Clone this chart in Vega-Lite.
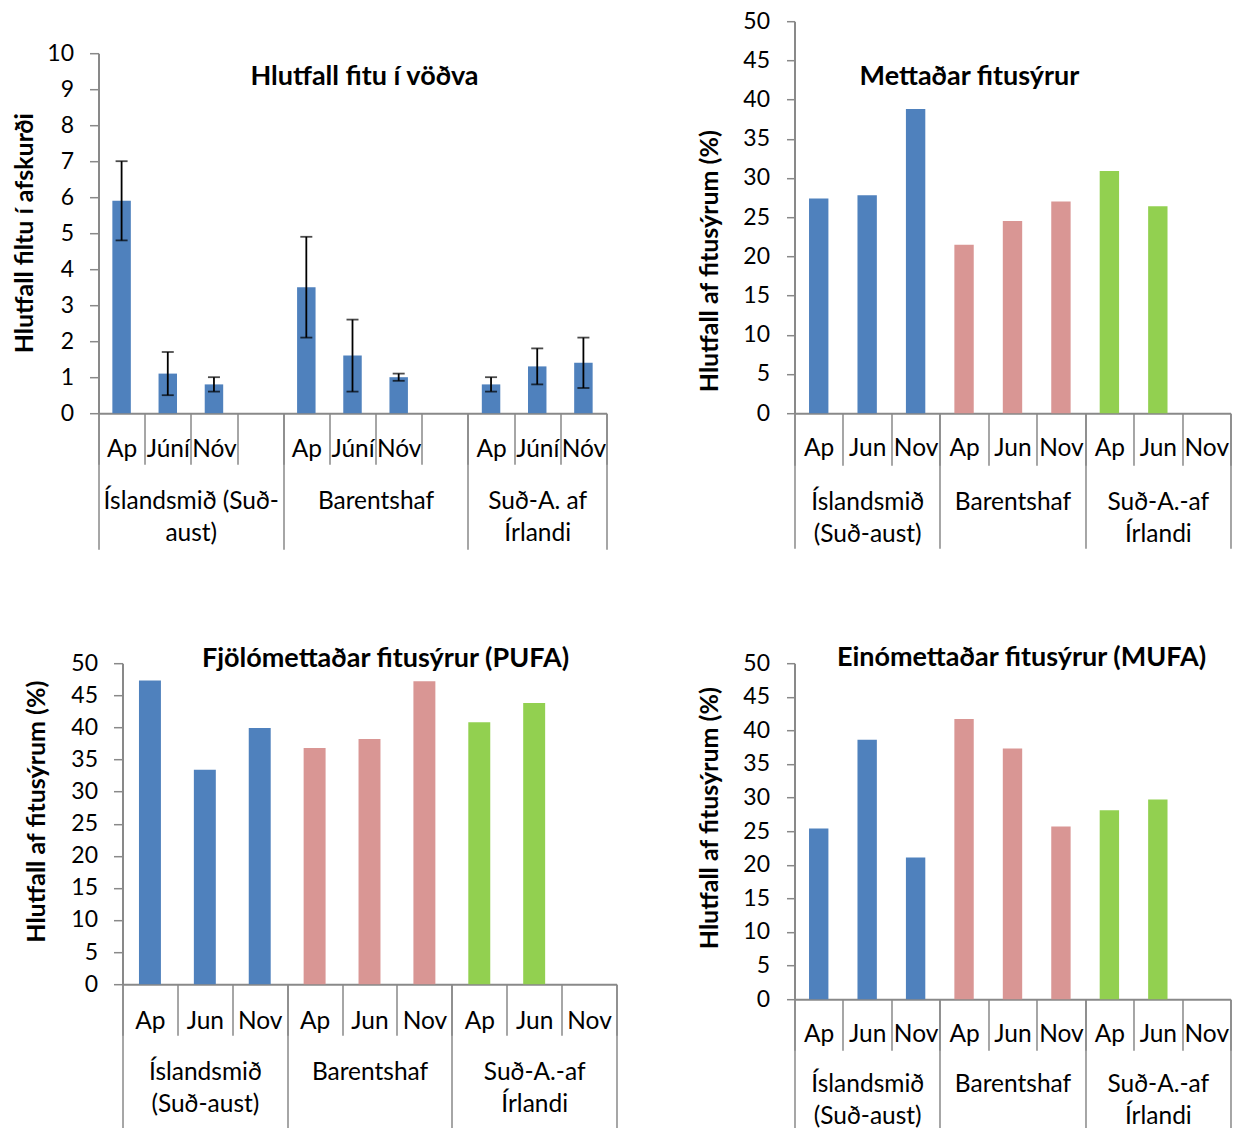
{
  "$schema": "https://vega.github.io/schema/vega-lite/v6.json",
  "padding": {"left": 12.5, "top": 10.2, "right": 0, "bottom": 0},
  "background": "white",
  "config": {
    "view": {"stroke": null},
    "font": "Lato",
    "axis": {"labelColor": "#000000", "titleColor": "#000000", "grid": false, "labelFontSize": 24.5, "titleFontSize": 25, "titleFontWeight": "bold", "domainColor": "#898989", "tickColor": "#898989", "domainWidth": 2, "tickWidth": 1.5, "labelOverlap": false, "labelFlush": false, "labelFont": "Lato", "titleFont": "Lato"},
    "axisY": {"labelFontSize": 23},
    "title": {"font": "Lato", "fontSize": 27, "fontWeight": "bold", "color": "#000000", "anchor": "middle", "baseline": "middle", "offset": 0}
  },
  "datasets": {
    "fat": [
      {"group": "Íslandsmið (Suð-aust)", "month": "Ap", "cat": "IS|Ap", "value": 5.9, "lo": 4.8, "hi": 7.0},
      {"group": "Íslandsmið (Suð-aust)", "month": "Júní", "cat": "IS|Júní", "value": 1.1, "lo": 0.5, "hi": 1.7},
      {"group": "Íslandsmið (Suð-aust)", "month": "Nóv", "cat": "IS|Nóv", "value": 0.8, "lo": 0.6, "hi": 1.0},
      {"group": "Barentshaf", "month": "Ap", "cat": "BA|Ap", "value": 3.5, "lo": 2.1, "hi": 4.9},
      {"group": "Barentshaf", "month": "Júní", "cat": "BA|Júní", "value": 1.6, "lo": 0.6, "hi": 2.6},
      {"group": "Barentshaf", "month": "Nóv", "cat": "BA|Nóv", "value": 1.0, "lo": 0.9, "hi": 1.1},
      {"group": "Suð-A. af Írlandi", "month": "Ap", "cat": "IR|Ap", "value": 0.8, "lo": 0.6, "hi": 1.0},
      {"group": "Suð-A. af Írlandi", "month": "Júní", "cat": "IR|Júní", "value": 1.3, "lo": 0.8, "hi": 1.8},
      {"group": "Suð-A. af Írlandi", "month": "Nóv", "cat": "IR|Nóv", "value": 1.4, "lo": 0.7, "hi": 2.1}
    ],
    "sfa": [
      {"group": "Íslandsmið (Suð-aust)", "month": "Ap", "cat": "IS|Ap", "value": 27.4},
      {"group": "Íslandsmið (Suð-aust)", "month": "Jun", "cat": "IS|Jun", "value": 27.8},
      {"group": "Íslandsmið (Suð-aust)", "month": "Nov", "cat": "IS|Nov", "value": 38.8},
      {"group": "Barentshaf", "month": "Ap", "cat": "BA|Ap", "value": 21.5},
      {"group": "Barentshaf", "month": "Jun", "cat": "BA|Jun", "value": 24.5},
      {"group": "Barentshaf", "month": "Nov", "cat": "BA|Nov", "value": 27.0},
      {"group": "Suð-A.-af Írlandi", "month": "Ap", "cat": "IR|Ap", "value": 30.9},
      {"group": "Suð-A.-af Írlandi", "month": "Jun", "cat": "IR|Jun", "value": 26.4}
    ],
    "pufa": [
      {"group": "Íslandsmið (Suð-aust)", "month": "Ap", "cat": "IS|Ap", "value": 47.3},
      {"group": "Íslandsmið (Suð-aust)", "month": "Jun", "cat": "IS|Jun", "value": 33.4},
      {"group": "Íslandsmið (Suð-aust)", "month": "Nov", "cat": "IS|Nov", "value": 39.9},
      {"group": "Barentshaf", "month": "Ap", "cat": "BA|Ap", "value": 36.8},
      {"group": "Barentshaf", "month": "Jun", "cat": "BA|Jun", "value": 38.2},
      {"group": "Barentshaf", "month": "Nov", "cat": "BA|Nov", "value": 47.2},
      {"group": "Suð-A.-af Írlandi", "month": "Ap", "cat": "IR|Ap", "value": 40.8},
      {"group": "Suð-A.-af Írlandi", "month": "Jun", "cat": "IR|Jun", "value": 43.8}
    ],
    "mufa": [
      {"group": "Íslandsmið (Suð-aust)", "month": "Ap", "cat": "IS|Ap", "value": 25.4},
      {"group": "Íslandsmið (Suð-aust)", "month": "Jun", "cat": "IS|Jun", "value": 38.6},
      {"group": "Íslandsmið (Suð-aust)", "month": "Nov", "cat": "IS|Nov", "value": 21.1},
      {"group": "Barentshaf", "month": "Ap", "cat": "BA|Ap", "value": 41.7},
      {"group": "Barentshaf", "month": "Jun", "cat": "BA|Jun", "value": 37.3},
      {"group": "Barentshaf", "month": "Nov", "cat": "BA|Nov", "value": 25.7},
      {"group": "Suð-A.-af Írlandi", "month": "Ap", "cat": "IR|Ap", "value": 28.1},
      {"group": "Suð-A.-af Írlandi", "month": "Jun", "cat": "IR|Jun", "value": 29.7}
    ]
  },
  "bounds": "flush",
  "columns": 2,
  "spacing": {"row": 250, "column": 178},
  "concat": [
    {
      "width": 508,
      "height": 392,
      "data": {"name": "fat"},
      "title": {"text": "Hlutfall fitu í vöðva", "dx": 12, "dy": 74},
      "resolve": {"axis": {"x": "independent"}},
      "layer": [
        {
          "mark": {"type": "bar", "width": {"band": 0.4}, "color": "#4F81BD"},
          "encoding": {
            "x": {"field": "cat", "type": "nominal", "sort": null,
              "scale": {"domain": ["IS|Ap", "IS|Júní", "IS|Nóv", "IS|", "BA|Ap", "BA|Júní", "BA|Nóv", "BA|", "IR|Ap", "IR|Júní", "IR|Nóv"], "paddingInner": 0, "paddingOuter": 0},
              "axis": {"orient": "bottom", "title": null, "tickBand": "extent", "tickSize": 51, "labelExpr": "split(datum.value, '|')[1]", "labelBaseline": "middle", "labelPadding": -15, "labelAngle": 0}},
            "y": {"field": "value", "type": "quantitative",
              "scale": {"domain": [0, 10], "range": [392, 32], "nice": false},
              "axis": {"title": "Hlutfall filtu í afskurði", "orient": "left", "values": [0, 1, 2, 3, 4, 5, 6, 7, 8, 9, 10], "tickCount": 12, "tickSize": 9, "labelPadding": 16, "titleX": -74, "titleY": 211.5, "titleBaseline": "middle", "titleAngle": -90}}
          }
        },
        {
          "mark": {"type": "rule", "color": "#000000", "strokeWidth": 1.8},
          "encoding": {
            "x": {"field": "cat", "type": "nominal", "sort": null,
              "axis": {"orient": "bottom", "title": null, "domain": false, "tickBand": "extent",
                "tickSize": {"condition": {"test": "datum.extra || indexof(['IS|', 'BA|', 'IR|Nóv'], datum.value) >= 0", "value": 136}, "value": 0},
                "labelExpr": "datum.value == 'IS|Júní' ? ['Íslandsmið (Suð-', 'aust)'] : datum.value == 'BA|Júní' ? 'Barentshaf' : datum.value == 'IR|Júní' ? ['Suð-A. af', 'Írlandi'] : ''",
                "labelOffset": {"condition": {"test": "datum.value == 'IS|Júní' || datum.value == 'BA|Júní'", "value": 23}, "value": 0},
                "labelBaseline": "top", "labelPadding": 76, "labelLineHeight": 32, "labelAngle": 0}},
            "y": {"field": "lo", "type": "quantitative",
              "axis": {"title": "Hlutfall filtu í afskurði", "orient": "left", "values": [0, 1, 2, 3, 4, 5, 6, 7, 8, 9, 10], "tickCount": 12, "tickSize": 9, "labelPadding": 16, "titleX": -74, "titleY": 211.5, "titleBaseline": "middle", "titleAngle": -90}},
            "y2": {"field": "hi"}
          }
        },
        {
          "mark": {"type": "tick", "color": "#000000", "thickness": 1.8, "size": 12},
          "encoding": {
            "x": {"field": "cat", "type": "nominal", "sort": null, "axis": null},
            "y": {"field": "hi", "type": "quantitative",
              "axis": {"title": "Hlutfall filtu í afskurði", "orient": "left", "values": [0, 1, 2, 3, 4, 5, 6, 7, 8, 9, 10], "tickCount": 12, "tickSize": 9, "labelPadding": 16, "titleX": -74, "titleY": 211.5, "titleBaseline": "middle", "titleAngle": -90}}
          }
        },
        {
          "mark": {"type": "tick", "color": "#000000", "thickness": 1.8, "size": 12},
          "encoding": {
            "x": {"field": "cat", "type": "nominal", "sort": null, "axis": null},
            "y": {"field": "lo", "type": "quantitative",
              "axis": {"title": "Hlutfall filtu í afskurði", "orient": "left", "values": [0, 1, 2, 3, 4, 5, 6, 7, 8, 9, 10], "tickCount": 12, "tickSize": 9, "labelPadding": 16, "titleX": -74, "titleY": 211.5, "titleBaseline": "middle", "titleAngle": -90}}
          }
        }
      ]
    },
    {
      "width": 436,
      "height": 392,
      "data": {"name": "sfa"},
      "title": {"text": "Mettaðar fitusýrur", "dx": -43, "dy": 85},
      "resolve": {"axis": {"x": "independent"}},
      "layer": [
        {
          "mark": {"type": "bar", "width": {"band": 0.4}},
          "encoding": {
            "x": {"field": "cat", "type": "nominal", "sort": null,
              "scale": {"domain": ["IS|Ap", "IS|Jun", "IS|Nov", "BA|Ap", "BA|Jun", "BA|Nov", "IR|Ap", "IR|Jun", "IR|Nov"], "paddingInner": 0, "paddingOuter": 0},
              "axis": {"orient": "bottom", "title": null, "tickBand": "extent", "tickSize": 52, "labelExpr": "split(datum.value, '|')[1]", "labelBaseline": "middle", "labelPadding": -17, "labelAngle": 0}},
            "y": {"field": "value", "type": "quantitative",
              "scale": {"domain": [0, 50], "nice": false},
              "axis": {"title": "Hlutfall af fitusýrum (%)", "values": [0, 5, 10, 15, 20, 25, 30, 35, 40, 45, 50], "tickSize": 8, "labelPadding": 17, "titleX": -85, "titleY": 239.5, "titleBaseline": "middle", "titleAngle": -90}},
            "color": {"field": "group", "type": "nominal", "legend": null,
              "scale": {"domain": ["Íslandsmið (Suð-aust)", "Barentshaf", "Suð-A.-af Írlandi"], "range": ["#4F81BD", "#D99694", "#92D050"]}}
          }
        },
        {
          "mark": {"type": "tick", "opacity": 0},
          "encoding": {
            "x": {"field": "cat", "type": "nominal", "sort": null,
              "axis": {"orient": "bottom", "title": null, "domain": false, "tickBand": "extent",
                "tickSize": {"condition": {"test": "datum.extra || indexof(['IS|Nov', 'BA|Nov', 'IR|Nov'], datum.value) >= 0", "value": 135}, "value": 0},
                "labelExpr": "datum.value == 'IS|Jun' ? ['Íslandsmið', '(Suð-aust)'] : datum.value == 'BA|Jun' ? 'Barentshaf' : datum.value == 'IR|Jun' ? ['Suð-A.-af', 'Írlandi'] : ''",
                "labelBaseline": "top", "labelPadding": 77, "labelLineHeight": 32, "labelAngle": 0}}
          }
        }
      ]
    },
    {
      "width": 518,
      "height": 321,
      "data": {"name": "pufa"},
      "title": {"text": "Fjölómettaðar fitusýrur (PUFA)", "dx": 28, "dy": 25},
      "resolve": {"axis": {"x": "independent"}},
      "layer": [
        {
          "mark": {"type": "bar", "width": {"band": 0.4}},
          "encoding": {
            "x": {"field": "cat", "type": "nominal", "sort": null,
              "scale": {"domain": ["IS|Ap", "IS|Jun", "IS|Nov", "BA|Ap", "BA|Jun", "BA|Nov", "IR|Ap", "IR|Jun", "IR|Nov"], "paddingInner": 0, "paddingOuter": 0, "range": [24, 518]},
              "axis": {"orient": "bottom", "title": null, "tickBand": "extent", "tickSize": 51, "labelExpr": "split(datum.value, '|')[1]", "labelBaseline": "middle", "labelPadding": -14, "labelAngle": 0}},
            "y": {"field": "value", "type": "quantitative",
              "scale": {"domain": [0, 50], "nice": false},
              "axis": {"title": "Hlutfall af fitusýrum (%)", "offset": -24, "values": [0, 5, 10, 15, 20, 25, 30, 35, 40, 45, 50], "tickSize": 9, "labelPadding": 16, "titleX": -86, "titleY": 148, "titleBaseline": "middle", "titleAngle": -90}},
            "color": {"field": "group", "type": "nominal", "legend": null,
              "scale": {"domain": ["Íslandsmið (Suð-aust)", "Barentshaf", "Suð-A.-af Írlandi"], "range": ["#4F81BD", "#D99694", "#92D050"]}}
          }
        },
        {
          "mark": {"type": "tick", "opacity": 0},
          "encoding": {
            "x": {"field": "cat", "type": "nominal", "sort": null,
              "axis": {"orient": "bottom", "title": null, "domain": false, "tickBand": "extent",
                "tickSize": {"condition": {"test": "datum.extra || indexof(['IS|Nov', 'BA|Nov', 'IR|Nov'], datum.value) >= 0", "value": 150}, "value": 0},
                "labelExpr": "datum.value == 'IS|Jun' ? ['Íslandsmið', '(Suð-aust)'] : datum.value == 'BA|Jun' ? 'Barentshaf' : datum.value == 'IR|Jun' ? ['Suð-A.-af', 'Írlandi'] : ''",
                "labelBaseline": "top", "labelPadding": 76, "labelLineHeight": 32, "labelAngle": 0}}
          }
        }
      ]
    },
    {
      "width": 436,
      "height": 336,
      "data": {"name": "mufa"},
      "title": {"text": "Einómettaðar fitusýrur (MUFA)", "dx": 9, "dy": 24},
      "resolve": {"axis": {"x": "independent"}},
      "layer": [
        {
          "mark": {"type": "bar", "width": {"band": 0.4}},
          "encoding": {
            "x": {"field": "cat", "type": "nominal", "sort": null,
              "scale": {"domain": ["IS|Ap", "IS|Jun", "IS|Nov", "BA|Ap", "BA|Jun", "BA|Nov", "IR|Ap", "IR|Jun", "IR|Nov"], "paddingInner": 0, "paddingOuter": 0},
              "axis": {"orient": "bottom", "title": null, "tickBand": "extent", "tickSize": 51, "labelExpr": "split(datum.value, '|')[1]", "labelBaseline": "middle", "labelPadding": -16, "labelAngle": 0}},
            "y": {"field": "value", "type": "quantitative",
              "scale": {"domain": [0, 50], "nice": false},
              "axis": {"title": "Hlutfall af fitusýrum (%)", "values": [0, 5, 10, 15, 20, 25, 30, 35, 40, 45, 50], "tickSize": 8, "labelPadding": 17, "titleX": -85, "titleY": 154.5, "titleBaseline": "middle", "titleAngle": -90}},
            "color": {"field": "group", "type": "nominal", "legend": null,
              "scale": {"domain": ["Íslandsmið (Suð-aust)", "Barentshaf", "Suð-A.-af Írlandi"], "range": ["#4F81BD", "#D99694", "#92D050"]}}
          }
        },
        {
          "mark": {"type": "tick", "opacity": 0},
          "encoding": {
            "x": {"field": "cat", "type": "nominal", "sort": null,
              "axis": {"orient": "bottom", "title": null, "domain": false, "tickBand": "extent",
                "tickSize": {"condition": {"test": "datum.extra || indexof(['IS|Nov', 'BA|Nov', 'IR|Nov'], datum.value) >= 0", "value": 150}, "value": 0},
                "labelExpr": "datum.value == 'IS|Jun' ? ['Íslandsmið', '(Suð-aust)'] : datum.value == 'BA|Jun' ? 'Barentshaf' : datum.value == 'IR|Jun' ? ['Suð-A.-af', 'Írlandi'] : ''",
                "labelBaseline": "top", "labelPadding": 73, "labelLineHeight": 32, "labelAngle": 0}}
          }
        }
      ]
    }
  ]
}
